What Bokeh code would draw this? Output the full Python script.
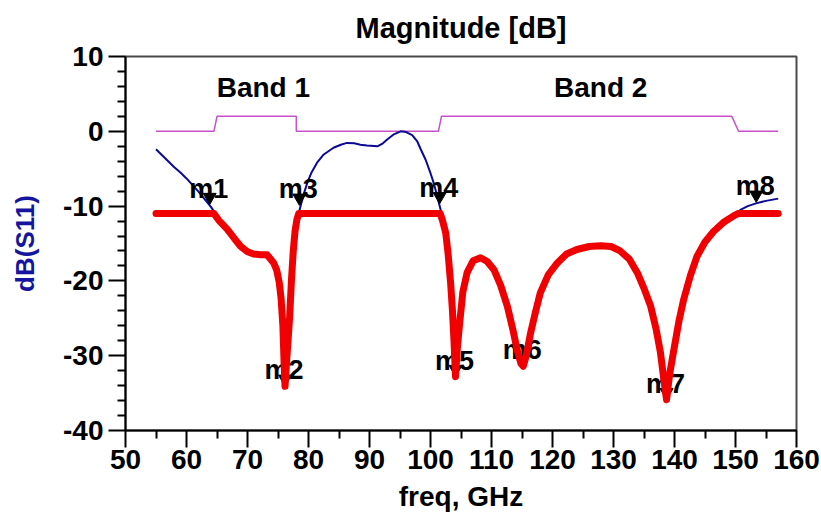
from bokeh.plotting import figure
from bokeh.models import Range1d, FixedTicker, ColumnDataSource
from bokeh.embed import file_html
from bokeh.resources import INLINE
from bokeh.core.properties import value

nan = float("nan")

# Band mask (dB) versus frequency (GHz)
mask_freq = [55, 64.5, 65.0, 78.0, 78.0, 101.3, 101.8, 149.4, 150.5, 157]
mask_db = [0, 0, 2, 2, 0, 0, 2, 2, 0, 0]

# dB(S11), thin trace (segments above the -11 dB limit)
s11_freq = [55, 56, 57, 58, 59, 60, 61, 62, 63, 64, 64.75, nan,
            78.4, 78.7, 79.3, 79.8, 80.5, 81.4, 82.5, 84.1, 85.3, 86.3, 87.5, 88.5,
            89.6, 91.3, 92.2, 92.9, 94.0, 95.1, 96.0, 97.0, 97.8, 98.4, 99.2, 100.0,
            100.6, 101.1, 101.6, 101.8, nan,
            150.3, 150.8, 152.0, 153.5, 155.0, 157.0]
s11_db = [-2.4, -3.2, -4.0, -4.8, -5.5, -6.3, -7.2, -8.1, -9.1, -10.1, -11.0, nan,
          -11.0, -10.0, -8.2, -6.9, -5.5, -4.2, -3.1, -2.2, -1.8, -1.55, -1.6, -1.8,
          -1.9, -2.0, -1.6, -1.1, -0.4, 0.0, -0.1, -0.5, -1.3, -2.4, -3.8, -5.6,
          -7.1, -8.7, -10.3, -11.0, nan,
          -11.0, -10.5, -10.0, -9.6, -9.3, -9.0]

# dB(S11) limited at -11 dB, thick trace
lim_freq = [55, 64.5, 65.3, 66.7, 68.0, 68.9, 70.0, 71.0, 72.2, 73.2, 74.3, 74.8,
            75.2, 75.5, 75.8, 76.0, 76.15, 76.35, 76.6, 76.9, 77.2, 77.5, 77.8, 78.1,
            78.4, 101.6, 102.0, 102.5, 102.9, 103.3, 103.6, 103.85, 104.1, 104.4,
            104.8, 105.3, 106.0, 107.0, 108.2, 109.3, 110.4, 111.5, 112.6, 113.5,
            114.2, 114.8, 115.2, 115.7, 116.4, 117.2, 118.0, 119.3, 120.8, 122.3,
            124.0, 126.0, 127.9, 129.6, 131.1, 132.6, 133.9, 135.0, 136.1, 137.0,
            137.7, 138.3, 138.7, 139.2, 139.9, 140.7, 141.5, 142.6, 143.7, 145.0,
            146.4, 148.0, 149.7, 150.4, 157]
lim_db = [-11, -11, -11.9, -13.1, -14.5, -15.4, -16.1, -16.4, -16.5, -16.5, -17.6, -18.6,
          -20.2, -22.3, -26.0, -31.0, -34.1, -31.5, -28.5, -25.0, -20.0, -16.0, -13.3, -11.8,
          -11, -11, -12.0, -13.6, -16.5, -20.3, -24.0, -28.0, -32.8, -29.0,
          -25.5, -21.5, -18.9, -17.3, -16.9, -17.4, -18.5, -20.6, -23.4, -26.5,
          -29.2, -31.0, -31.4, -30.0, -27.0, -24.2, -21.6, -19.2, -17.6, -16.4,
          -15.8, -15.4, -15.3, -15.4, -16.0, -17.1, -18.9, -21.0, -23.4, -26.5,
          -29.6, -33.5, -35.9, -32.5, -29.2, -25.5, -22.5, -19.3, -16.7, -14.8,
          -13.4, -12.2, -11.3, -11, -11]

# Markers
marker_names = ["m1", "m2", "m3", "m4", "m5", "m6", "m7", "m8"]
marker_freq = [63.8, 76.15, 78.5, 101.5, 104.1, 115.2, 138.7, 153.4]
marker_db = [-9.8, -34.1, -9.9, -9.7, -32.8, -31.4, -35.9, -9.5]

# Band captions
band_names = ["Band 1", "Band 2"]
band_freq = [72.6, 127.9]
band_db = [5.8, 5.8]

# Tick values and their labels
x_ticks = list(range(50, 161, 10))
y_ticks = list(range(-40, 11, 10))
y_tick_labels = {v: str(v) for v in y_ticks}

FONT = "Liberation Sans"
PX_PER_DB = 374 / 50.0

p = figure(width=821, height=525, output_backend="svg", toolbar_location=None,
           x_range=Range1d(50, 160), y_range=Range1d(-40, 10),
           min_border_left=125, min_border_right=25, min_border_top=56,
           min_border_bottom=95, background_fill_color="white",
           border_fill_color="white")

p.title.text = "Magnitude [dB]"
p.title.align = "center"
p.title.vertical_align = "top"
p.title.text_font = FONT
p.title.text_font_size = "29px"
p.title.text_font_style = "bold"
p.title.text_color = "black"
p.title.standoff = 22

p.xgrid.visible = False
p.ygrid.visible = False
p.outline_line_color = "#4a4a4a"
p.outline_line_width = 2

p.xaxis.ticker = FixedTicker(ticks=x_ticks, minor_ticks=list(range(55, 160, 10)))
p.yaxis.ticker = FixedTicker(ticks=y_ticks,
                             minor_ticks=[v for v in range(-40, 11, 2) if v % 10])
p.yaxis.major_label_overrides = y_tick_labels
for ax in (p.xaxis[0], p.yaxis[0]):
    ax.axis_line_width = 2
    ax.axis_line_color = "black"
    ax.major_tick_line_width = 2
    ax.minor_tick_line_width = 2
    ax.major_tick_in = 0
    ax.minor_tick_in = 0
    ax.major_tick_out = 17
    ax.minor_tick_out = 8
    ax.major_label_text_font = FONT
    ax.major_label_text_font_size = "28px"
    ax.major_label_text_font_style = "bold"
    ax.major_label_text_color = "black"
    ax.axis_label_text_font = FONT
    ax.axis_label_text_font_style = "bold"

p.xaxis.axis_label = "freq, GHz"
p.xaxis.axis_label_text_font_size = "28px"
p.xaxis.axis_label_text_color = "black"
p.xaxis.axis_label_standoff = 9
p.xaxis.major_label_standoff = 2

p.yaxis.axis_label = "dB(S11)"
p.yaxis.axis_label_text_font_size = "26px"
p.yaxis.axis_label_text_color = "#1414a0"
p.yaxis.axis_label_standoff = 20
p.yaxis.major_label_standoff = 5

# Band mask
p.line(mask_freq, mask_db, line_color="#c850c8", line_width=1.5)

# Band captions
p.text(x=band_freq, y=band_db, text=band_names, text_font=value(FONT),
       text_font_size="28px", text_font_style="bold", text_color="black",
       text_align="center", text_baseline="middle")

# Thin trace
p.line(s11_freq, s11_db, line_color="#0a0a96", line_width=2)

# Marker triangles, tip resting on the trace
tri_size = 13
tip_shift = (tri_size / 2 * 3 ** 0.5) * 2 / 3 / PX_PER_DB
msrc = ColumnDataSource(dict(f=marker_freq, db=marker_db,
                             tri=[d + tip_shift for d in marker_db],
                             name=marker_names))
p.scatter("f", "tri", source=msrc, marker="inverted_triangle", size=tri_size,
          fill_color="black", line_color="black")
p.text("f", "db", text="name", source=msrc, text_font=value(FONT),
       text_font_size="27px", text_font_style="bold", text_color="black",
       text_align="center", text_baseline="alphabetic", y_offset=-16, x_offset=-1)

# Thick limited trace
p.line(lim_freq, lim_db, line_color="#f00000", line_width=7,
       line_join="round", line_cap="round")

open("out.html", "w").write(file_html(p, INLINE))
